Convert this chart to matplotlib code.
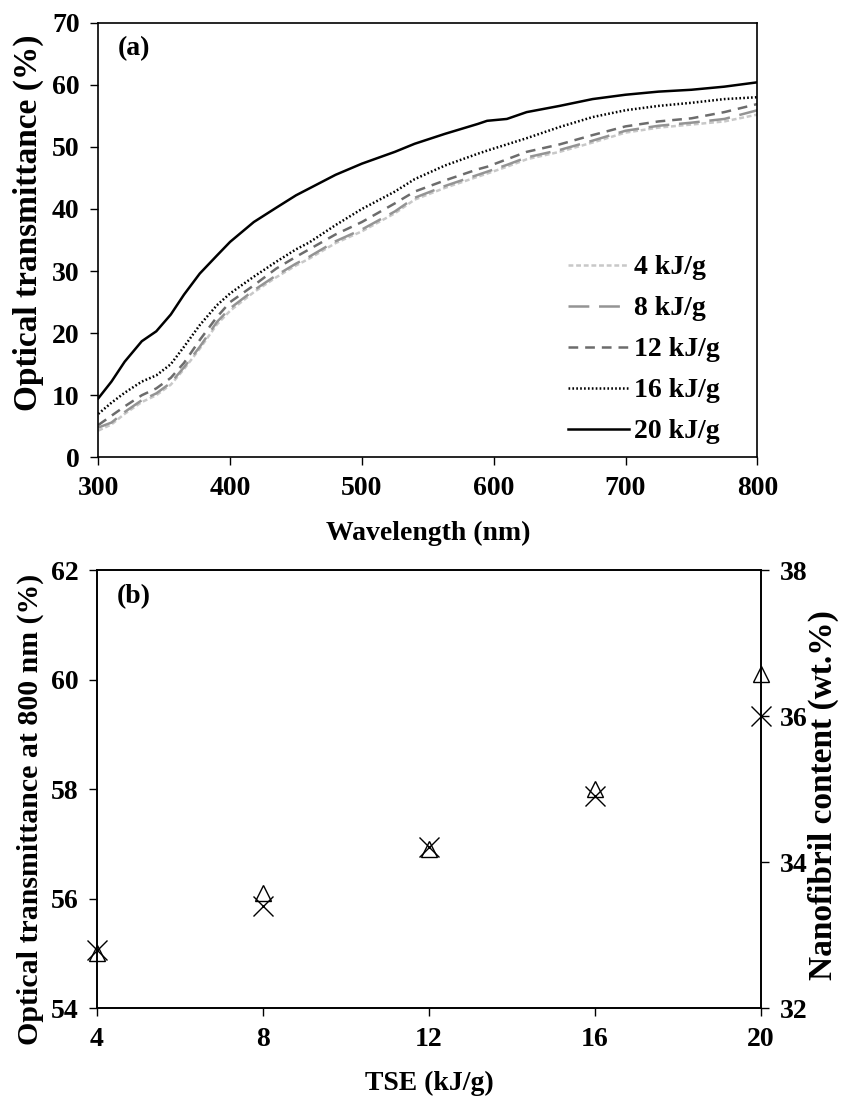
import matplotlib
matplotlib.use("Agg")
import matplotlib.pyplot as plt

plt.rcParams["font.family"] = ["Liberation Serif", "DejaVu Serif"]
plt.rcParams["font.weight"] = "bold"
plt.rcParams["lines.scale_dashes"] = False

# (a) optical transmittance spectra
wavelength = [300, 310, 320, 333, 344, 355, 365, 377, 390, 400, 418, 435, 450, 460,
              480, 500, 525, 540, 563, 588, 595, 610, 625, 650, 675, 700, 725, 750,
              775, 800]
t_4 = [4.3, 5.3, 7.0, 8.9, 10.0, 11.7, 14.2, 17.5, 21.4, 23.6, 26.6, 29.0, 30.9, 32.0,
       34.5, 36.4, 39.3, 41.5, 43.4, 45.2, 45.7, 46.8, 48.0, 49.2, 50.7, 52.3, 53.1,
       53.6, 54.1, 55.2]
t_8 = [4.8, 5.6, 7.3, 9.2, 10.3, 12.0, 14.5, 17.8, 21.8, 24.0, 26.9, 29.3, 31.2, 32.3,
       34.8, 36.7, 39.6, 41.8, 43.7, 45.5, 46.0, 47.1, 48.3, 49.5, 51.0, 52.6, 53.4,
       53.9, 54.5, 55.9]
t_12 = [5.2, 6.7, 8.2, 10.0, 11.1, 12.8, 15.2, 18.9, 22.6, 25.0, 27.7, 30.4, 32.3, 33.5,
        35.9, 37.9, 40.9, 42.8, 44.6, 46.4, 46.8, 48.0, 49.2, 50.4, 51.9, 53.3, 54.1,
        54.6, 55.6, 56.9]
t_16 = [7.0, 8.8, 10.4, 12.2, 13.2, 15.0, 17.8, 21.3, 24.5, 26.4, 29.1, 31.5, 33.5, 34.6,
        37.4, 40.0, 42.8, 44.8, 47.0, 48.9, 49.4, 50.4, 51.4, 53.2, 54.8, 55.9, 56.6,
        57.1, 57.7, 58.0]
t_20 = [9.5, 12.2, 15.4, 18.7, 20.3, 23.0, 26.2, 29.6, 32.5, 34.7, 37.9, 40.2, 42.2, 43.3,
        45.5, 47.3, 49.2, 50.5, 52.1, 53.7, 54.2, 54.5, 55.6, 56.6, 57.7, 58.4, 58.9,
        59.2, 59.7, 60.4]
series_labels = ["4 kJ/g", "8 kJ/g", "12 kJ/g", "16 kJ/g", "20 kJ/g"]

# (b) values at 800 nm vs. TSE
tse = [4, 8, 12, 16, 20]
trans_800 = [55.0, 56.1, 56.9, 58.0, 60.1]
nanofibril = [32.8, 33.4, 34.2, 34.9, 36.0]

fig = plt.figure(figsize=(8.51, 10.97), dpi=100)
fs = 20

# ---- panel (a)
ax1 = fig.add_axes([0.1155, 0.5831, 0.7744, 0.3962])
styles = [
    dict(color="#c8c8c8", linestyle=(0, (3.5, 2))),
    dict(color="#949494", linestyle=(0, (15, 7))),
    dict(color="#6c6c6c", linestyle=(0, (7, 5))),
    dict(color="black", linestyle=(0, (1.2, 1.6))),
    dict(color="black", linestyle="-"),
]
for y, lab, st in zip([t_4, t_8, t_12, t_16, t_20], series_labels, styles):
    ax1.plot(wavelength, y, lw=1.8, label=lab, **st)

ax1.set_xlim(300, 800)
ax1.set_ylim(0, 70)
ax1.set_xticks(range(300, 801, 100))
ax1.set_yticks(range(0, 71, 10))
ax1.tick_params(direction="out", length=5.5, width=1, labelsize=fs, pad=8,
                right=False, top=False)
ax1.set_xlabel("Wavelength (nm)", fontsize=fs, fontweight="bold", labelpad=14)
ax1.set_ylabel("Optical transmittance (%)", fontsize=24, fontweight="bold")
ax1.yaxis.set_label_coords(-0.082, 0.539)
ax1.text(0.03, 0.94, "(a)", transform=ax1.transAxes, fontsize=fs,
         fontweight="bold", va="center", ha="left")
leg = ax1.legend(loc="upper left", bbox_to_anchor=(0.712, 0.466), frameon=False,
                 fontsize=fs, handlelength=2.2, handletextpad=0.2,
                 labelspacing=0.56, borderpad=0, borderaxespad=0)
for sp in ax1.spines.values():
    sp.set_linewidth(1.2)

# ---- panel (b)
ax2 = fig.add_axes([0.114, 0.0811, 0.7803, 0.3993])
ax2.plot(tse, trans_800, linestyle="none", marker="^", markersize=12,
         markerfacecolor="none", markeredgecolor="black", markeredgewidth=1,
         clip_on=False)
ax2.set_xlim(4, 20)
ax2.set_ylim(54, 62)
ax2.set_xticks(tse)
ax2.set_yticks(range(54, 63, 2))
ax2.tick_params(direction="out", length=5.5, width=1, labelsize=fs, pad=8,
                top=False)
ax2.set_xlabel("TSE (kJ/g)", fontsize=fs, fontweight="bold", labelpad=14)
ax2.set_ylabel("Optical transmittance at 800 nm (%)", fontsize=21.5,
               fontweight="bold")
ax2.yaxis.set_label_coords(-0.08, 0.454)
ax2.text(0.03, 0.94, "(b)", transform=ax2.transAxes, fontsize=fs,
         fontweight="bold", va="center", ha="left")

ax3 = ax2.twinx()
ax3.plot(tse, nanofibril, linestyle="none", marker="x", markersize=14,
         color="black", markeredgewidth=1, clip_on=False)
ax3.set_ylim(32, 38)
ax3.set_yticks(range(32, 39, 2))
ax3.tick_params(direction="out", length=5.5, width=1, labelsize=fs, pad=8)
ax3.set_ylabel("Nanofibril content (wt.%)", fontsize=24, fontweight="bold")
ax3.yaxis.set_label_coords(1.071, 0.486)
for a in (ax2, ax3):
    for sp in a.spines.values():
        sp.set_linewidth(1.2)

fig.savefig("out.png", dpi=100)
